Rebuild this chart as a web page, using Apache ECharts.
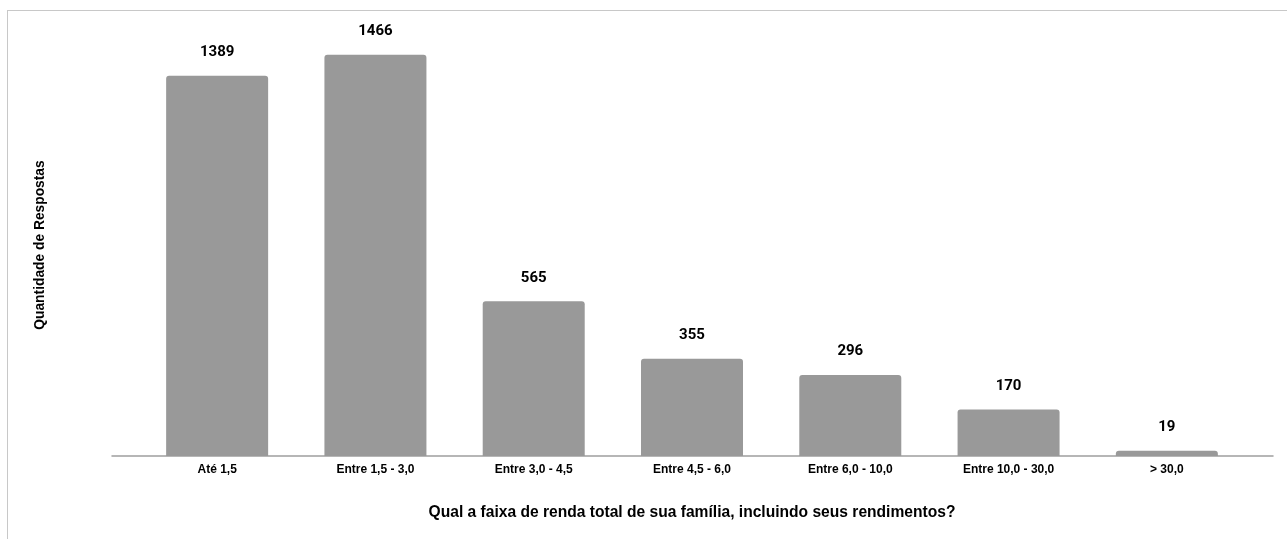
<!DOCTYPE html>
<html>
<head>
<meta charset="utf-8">
<script src="https://cdn.jsdelivr.net/npm/echarts@6/dist/echarts.min.js"></script>
<style>
  html, body { margin: 0; padding: 0; background: #fff; }
  #chart { width: 1287px; height: 539px; position: relative; }
  .frame {
    position: absolute; left: 7px; top: 10px; right: 0; bottom: 0;
    border-top: 1px solid #c8c8c8; border-left: 1px solid #c8c8c8;
    pointer-events: none;
  }
</style>
</head>
<body>
<div id="chart"></div>
<div class="frame"></div>
<script>
// faixas de renda e quantidade de respostas
const categorias = ['Até 1,5', 'Entre 1,5 - 3,0', 'Entre 3,0 - 4,5', 'Entre 4,5 - 6,0', 'Entre 6,0 - 10,0', 'Entre 10,0 - 30,0', '> 30,0']
const respostas = [1389, 1466, 565, 355, 296, 170, 19]
const tituloX = 'Qual a faixa de renda total de sua família, incluindo seus rendimentos?'
const tituloY = 'Quantidade de Respostas'

const chart = echarts.init(document.getElementById('chart'))
const option = {
  animation: false,
  grid: [
    { left: 138, right: 41, top: 18, bottom: 83 },
    // linha do eixo (mais larga que as barras) e titulo do eixo y
    { left: 112, right: 14, top: 34, bottom: 83 }
  ],
  xAxis: [
    {
      type: 'category',
      gridIndex: 0,
      data: categorias,
      axisLine: { show: false },
      axisTick: { show: false },
      axisLabel: {
        margin: 8,
        color: '#000',
        fontFamily: 'Liberation Sans, Arial, sans-serif',
        fontWeight: 'bold',
        fontSize: 12
      },
      name: tituloX,
      nameLocation: 'middle',
      nameGap: 49,
      nameTextStyle: {
        color: '#000',
        fontFamily: 'Liberation Sans, Arial, sans-serif',
        fontWeight: 'bold',
        fontSize: 15.6
      }
    },
    {
      type: 'category',
      gridIndex: 1,
      data: categorias,
      axisLine: { show: true, lineStyle: { color: '#9e9e9e', width: 1.5 } },
      axisTick: { show: false },
      axisLabel: { show: false }
    }
  ],
  yAxis: [
    {
      type: 'value',
      gridIndex: 0,
      min: 0,
      max: 1600,
      axisLine: { show: false },
      axisTick: { show: false },
      axisLabel: { show: false },
      splitLine: { show: false }
    },
    {
      type: 'value',
      gridIndex: 1,
      min: 0,
      max: 1600,
      axisLine: { show: false },
      axisTick: { show: false },
      axisLabel: { show: false },
      splitLine: { show: false },
      name: tituloY,
      nameLocation: 'middle',
      nameGap: 65,
      nameTextStyle: {
        color: '#000',
        fontFamily: 'Liberation Sans, Arial, sans-serif',
        fontWeight: 'bold',
        fontSize: 13.8
      }
    }
  ],
  series: [
    {
      type: 'bar',
      xAxisIndex: 0,
      yAxisIndex: 0,
      data: respostas,
      barWidth: 102,
      itemStyle: { color: '#999999', borderRadius: [3, 3, 0, 0] },
      label: {
        show: true,
        position: 'top',
        distance: 16,
        color: '#000',
        fontFamily: 'Roboto, sans-serif',
        fontWeight: 'bold',
        fontSize: 15
      }
    }
  ]
}
chart.setOption(option)
</script>
</body>
</html>
